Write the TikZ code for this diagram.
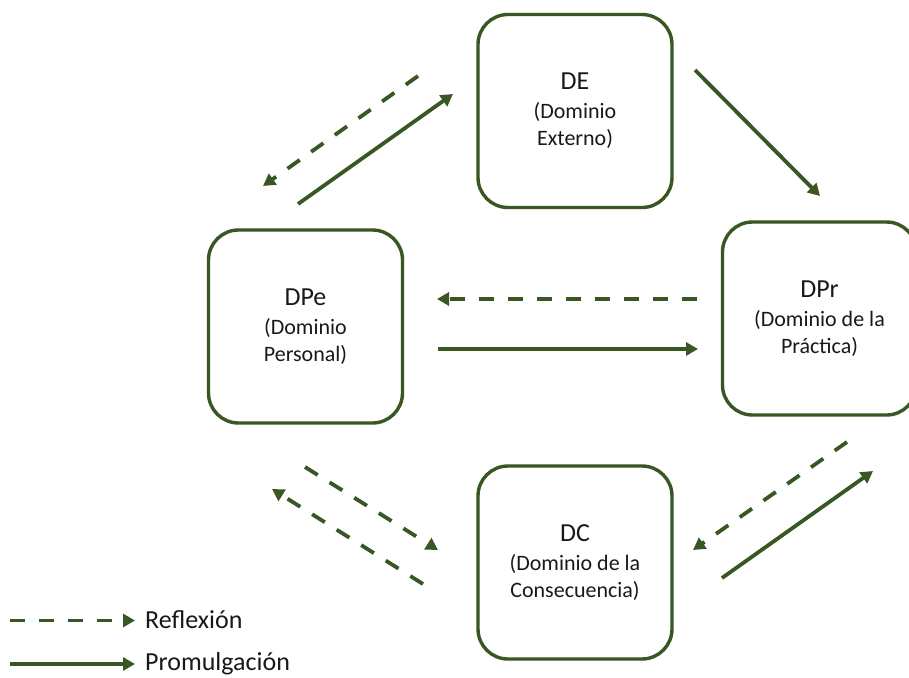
\documentclass[tikz,border=0pt]{standalone}
\usepackage{fontspec}
\setmainfont{Carlito}
\usetikzlibrary{arrows.meta}
\definecolor{leaf}{HTML}{385723}
\tikzset{
  dombox/.style={draw=leaf, line width=3.4pt, rounded corners=30pt,
    minimum width=194pt, minimum height=193pt, align=center,
    font=\fontsize{22}{27}\selectfont, text=black!90, inner sep=0pt},
  flow/.style={draw=leaf, line width=3.8pt,
    -{Triangle[length=12pt,width=13pt]}},
  enact/.style={flow},
  reflect/.style={flow, dash pattern=on 15pt off 14pt},
  legendtext/.style={font=\fontsize{26}{26}\selectfont, text=black!90,
    anchor=base west, inner sep=0pt},
}
\newcommand{\dtitle}[1]{{\fontsize{26}{26}\selectfont #1}\\[2pt]}
\begin{document}
\begin{tikzpicture}[x=1pt, y=-1pt]
  \clip (0,0) rectangle (909,677);
  \fill[white] (0,0) rectangle (909,677);

  % the four domains
  \node[dombox] (DE)  at (575,111)   {\dtitle{DE}(Dominio\\Externo)};
  \node[dombox] (DPe) at (305.5,326.5) {\dtitle{DPe}(Dominio\\Personal)};
  \node[dombox] (DPr) at (819.5,318.5) {\dtitle{DPr}(Dominio de la\\Práctica)};
  \node[dombox] (DC)  at (575,562.5) {\dtitle{DC}(Dominio de la\\Consecuencia)};

  % arrow end points
  \coordinate (ePeE) at (298,204);  \coordinate (eEPe) at (453,94);
  \coordinate (rEPe) at (418,76);   \coordinate (rEPeT) at (263,186);
  \coordinate (eEPr) at (695,70);   \coordinate (eEPrT) at (820,196);
  \coordinate (rPrPe) at (697,299); \coordinate (rPrPeT) at (437,299);
  \coordinate (ePePr) at (438,349); \coordinate (ePePrT) at (698,349);
  \coordinate (rPeC) at (305,467);  \coordinate (rPeCT) at (438,550);
  \coordinate (rCPe) at (423,584);  \coordinate (rCPeT) at (272,489);
  \coordinate (rPrC) at (847,442);  \coordinate (rPrCT) at (693,550);
  \coordinate (eCPr) at (722,578);  \coordinate (eCPrT) at (873,471);

  % DPe <-> DE
  \draw[reflect] (rEPe) -- (rEPeT);
  \draw[enact] (ePeE) -- (eEPe);
  % DE -> DPr
  \draw[enact] (eEPr) -- (eEPrT);
  % DPe <-> DPr
  \draw[reflect] (rPrPe) -- (rPrPeT);
  \draw[enact] (ePePr) -- (ePePrT);
  % DPe <-> DC
  \draw[reflect] (rPeC) -- (rPeCT);
  \draw[reflect] (rCPe) -- (rCPeT);
  % DPr <-> DC
  \draw[reflect] (rPrC) -- (rPrCT);
  \draw[enact] (eCPr) -- (eCPrT);

  % legend
  \coordinate (lr0) at (10,620.5);  \coordinate (lr1) at (135,620.5);
  \coordinate (le0) at (10,664);    \coordinate (le1) at (135,664);
  \draw[reflect] (lr0) -- (lr1);
  \draw[enact] (le0) -- (le1);
  \node[legendtext] (lrt) at (145,628) {Reflexión};
  \node[legendtext] (let) at (145,670) {Promulgación};
\end{tikzpicture}
\end{document}
